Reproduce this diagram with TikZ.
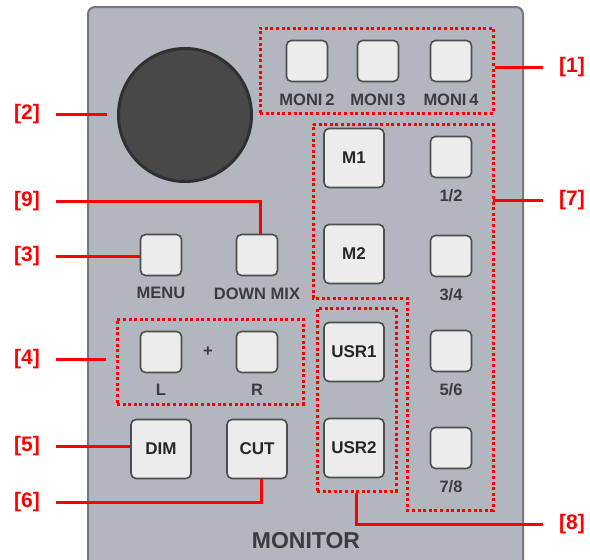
\documentclass[tikz,border=0pt]{standalone}
\usepackage{fontspec}
\setmainfont{Liberation Sans}
\usepackage{tikz}
\usetikzlibrary{positioning}
\definecolor{panel}{RGB}{178,182,190}
\definecolor{paneledge}{RGB}{118,121,128}
\definecolor{keyface}{RGB}{236,236,236}
\definecolor{keyedge}{RGB}{78,78,78}
\definecolor{keytext}{RGB}{38,38,38}
\definecolor{captext}{RGB}{58,60,64}
\definecolor{knobface}{RGB}{72,72,72}
\definecolor{knobedge}{RGB}{48,48,48}
\tikzset{key node/.style={rectangle,draw=keyedge,fill=keyface,line width=1.6pt,rounded corners=5pt,minimum width=41pt,minimum height=41pt,inner sep=0pt}}
\tikzset{big key/.style={key node,minimum width=60pt,minimum height=59pt,text=keytext,font=\fontsize{17}{17}\selectfont\bfseries}}
\tikzset{cap node/.style={inner sep=0pt,text=captext,font=\fontsize{16.5}{16.5}\selectfont\bfseries}}
\tikzset{tag node/.style={inner sep=0pt,text=red,font=\fontsize{21}{21}\selectfont\bfseries}}
\tikzset{lead/.style={red,line width=3pt}}
\tikzset{group box/.style={draw=red,line width=3pt,dash pattern=on 3pt off 2.6pt,inner sep=0pt}}

\begin{document}
\begin{tikzpicture}[x=1pt,y=-1pt]
\useasboundingbox (0,0) rectangle (590,560);

% panel and knob
\begin{scope}
\clip (0,0) rectangle (590,560);
\draw[fill=panel,draw=paneledge,line width=2pt,rounded corners=7pt] (88,7) rectangle (523,590);
\end{scope}
\node[circle,draw=knobedge,fill=knobface,line width=3pt,minimum size=133pt] (knob) at (185,115) {};

% monitor keys
\foreach \n/\x in {2/307,3/378,4/451}{
    \node[key node] (moni\n) at (\x,61) {};
    \node[cap node,below=11pt of moni\n] (monilab\n) {MONI\,\n};
}

% channel pair keys
\foreach \a/\b/\y in {1/2/157,3/4/256,5/6/351,7/8/448}{
    \node[key node] (ch\a) at (451,\y) {};
    \node[cap node,below=11pt of ch\a] (chlab\a) {\a/\b};
}

% big keys
\node[big key] (m1) at (354,158) {M1};
\node[big key] (m2) at (354,254) {M2};
\node[big key] (usr1) at (354,352) {USR1};
\node[big key] (usr2) at (354,448) {USR2};
\node[big key] (dim) at (161,449) {DIM};
\node[big key] (cut) at (257,449) {CUT};

% left keys
\node[key node] (menu) at (161,255) {};
\node[cap node,below=11pt of menu] (menulab) {MENU};
\node[key node] (dmix) at (257,255) {};
\node[cap node,below=11pt of dmix] (dmixlab) {DOWN MIX};
\node[key node] (lkey) at (161,352) {};
\node[cap node,below=11pt of lkey] (llab) {L};
\node[key node] (rkey) at (257,352) {};
\node[cap node,below=11pt of rkey] (rlab) {R};
\node[cap node] (plus) at (208,352) {+};

\node[inner sep=0pt,text=captext,font=\fontsize{23}{23}\selectfont\bfseries] (monitor) at (306,541) {MONITOR};

% dotted groups
\node[group box,minimum width=233pt,minimum height=85pt] (monibox) at (376.5,70.5) {};
\node[group box,minimum width=186pt,minimum height=85pt] (lrbox) at (210,361.5) {};
\node[group box,minimum width=79pt,minimum height=183pt] (usrbox) at (356.5,399.5) {};
\draw[group box] (313,124) -- (493,124) -- (493,510) -- (407,510) -- (407,298) -- (313,298) -- cycle;
\coordinate (chbox) at (493,200);

% callouts
\node[tag node] (tag1) at (572,67) {[1]};
\node[tag node] (tag2) at (27,114) {[2]};
\node[tag node] (tag9) at (27,201) {[9]};
\node[tag node] (tag3) at (27,256) {[3]};
\node[tag node] (tag7) at (572,200) {[7]};
\node[tag node] (tag4) at (27,359) {[4]};
\node[tag node] (tag5) at (27,446) {[5]};
\node[tag node] (tag6) at (27,502) {[6]};
\node[tag node] (tag8) at (572,524) {[8]};

\draw[lead] (monibox.east |- tag1) -- ([xshift=-16pt]tag1.west);
\draw[lead,shorten >=10pt] ([xshift=16pt]tag2.east) -- (knob.west |- tag2);
\draw[lead] ([xshift=16pt]tag9.east) -| ([xshift=3pt]dmix.north);
\draw[lead] ([xshift=16pt]tag3.east) -- (menu.west |- tag3);
\draw[lead] (chbox) -- ([xshift=-16pt]tag7.west);
\draw[lead,shorten >=10pt] ([xshift=16pt]tag4.east) -- (lrbox.west |- tag4);
\draw[lead] ([xshift=16pt]tag5.east) -- (dim.west |- tag5);
\draw[lead] ([xshift=16pt]tag6.east) -| ([xshift=4pt]cut.south);
\draw[lead] (usrbox.south) |- ([xshift=-16pt]tag8.west);

\end{tikzpicture}
\end{document}
